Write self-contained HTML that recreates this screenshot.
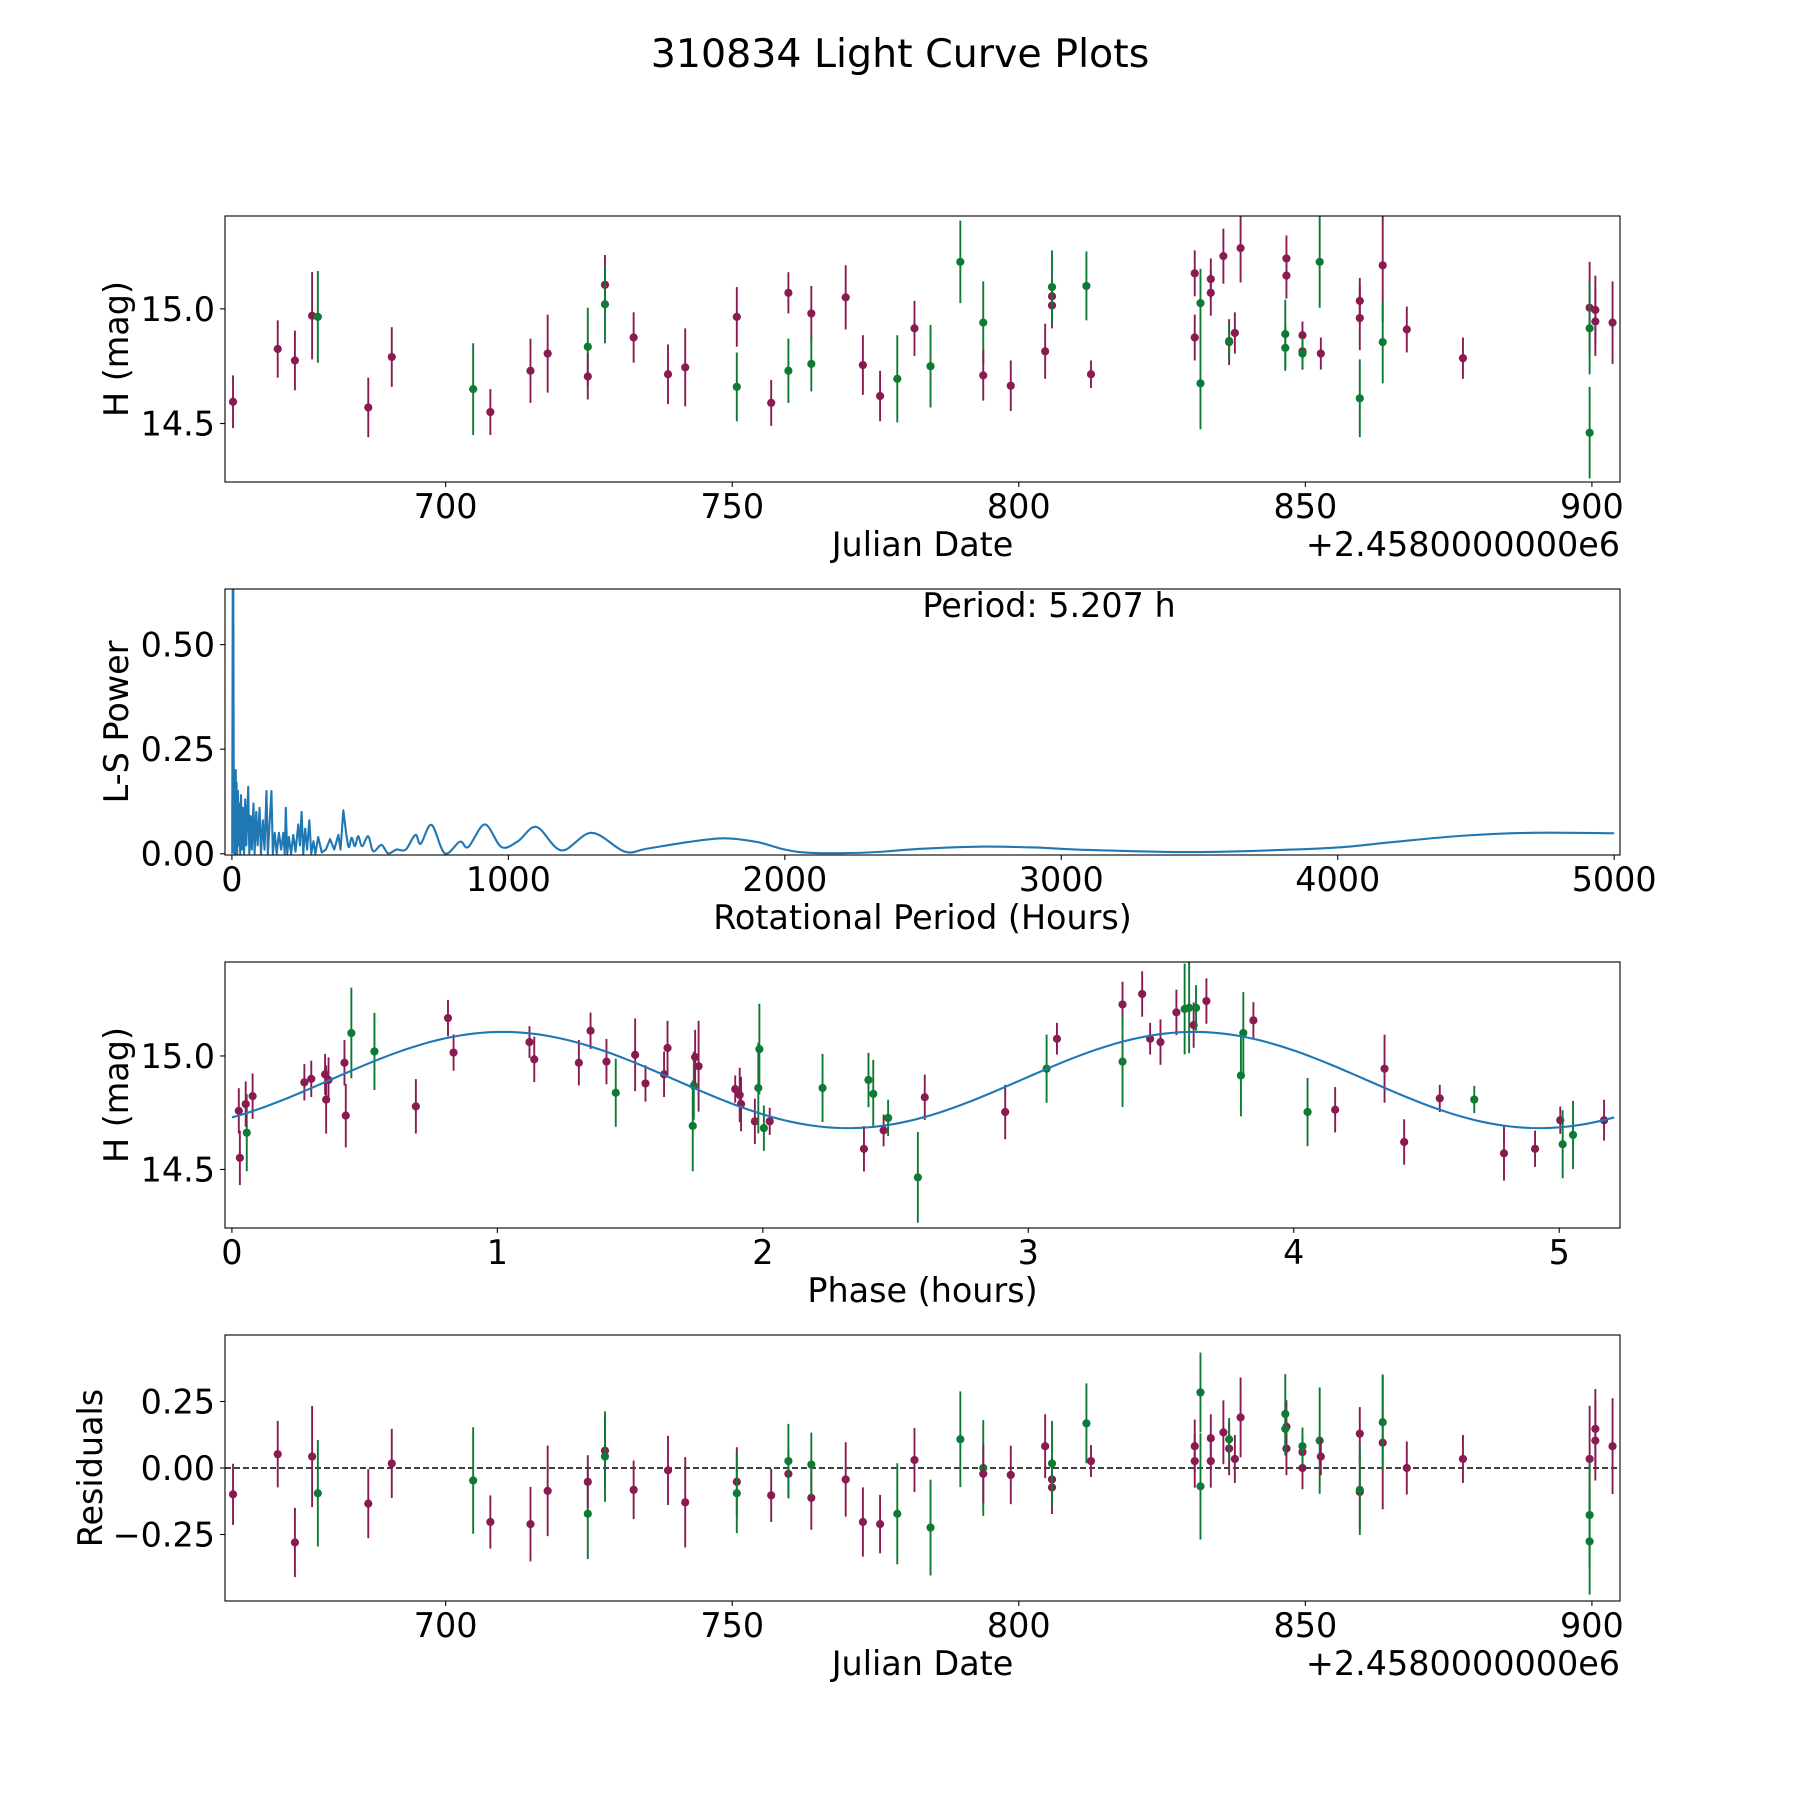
<!DOCTYPE html>
<html><head><meta charset="utf-8">
<style>
html,body{margin:0;padding:0;background:#fff;}
svg{display:block;font-family:"DejaVu Sans","Liberation Sans",sans-serif;}
</style></head>
<body>
<svg id="fig" width="1800" height="1800" viewBox="0 0 1800 1800" xmlns="http://www.w3.org/2000/svg">
<rect width="1800" height="1800" fill="#fff"/>
<text x="900" y="67" font-size="39.5" text-anchor="middle" fill="#000">310834 Light Curve Plots</text>
</svg>
<script>
// ---------- Data: light curve (Julian date offset, H mag, error, filter) ----------
const jdVals = [662.9,670.7,673.7,676.7,677.7,686.5,690.6,704.8,707.8,714.8,717.8,724.8,724.8,727.8,727.8,732.8,738.8,741.8,750.8,750.8,756.8,759.8,759.8,763.8,763.8,769.8,772.8,775.8,778.8,781.8,784.6,789.8,793.8,793.8,798.6,804.6,805.8,805.8,805.8,811.8,812.6,830.7,830.7,831.7,831.7,833.5,833.5,835.7,836.7,836.7,837.7,838.7,846.7,846.7,846.5,846.5,849.5,849.5,849.5,852.5,852.7,859.5,859.5,859.5,863.5,863.5,867.7,877.5,899.6,899.6,899.6,900.6,900.6,903.6];
const magVals = [14.595,14.825,14.775,14.97,14.965,14.57,14.79,14.65,14.55,14.73,14.805,14.835,14.705,15.105,15.02,14.875,14.715,14.745,14.965,14.66,14.59,15.07,14.73,14.98,14.76,15.05,14.755,14.62,14.695,14.915,14.75,15.205,14.94,14.71,14.665,14.815,15.055,15.015,15.095,15.1,14.715,15.155,14.875,15.025,14.675,15.13,15.07,15.23,14.855,14.86,14.895,15.265,15.22,15.145,14.89,14.83,14.885,14.815,14.805,15.205,14.805,15.035,14.96,14.61,15.19,14.855,14.91,14.785,15.005,14.915,14.46,14.995,14.945,14.94];
const errVals = [0.115,0.125,0.13,0.19,0.2,0.13,0.13,0.2,0.1,0.14,0.17,0.17,0.1,0.13,0.17,0.11,0.13,0.17,0.13,0.15,0.1,0.09,0.14,0.12,0.12,0.14,0.13,0.11,0.19,0.12,0.18,0.18,0.18,0.11,0.11,0.12,0.08,0.1,0.16,0.15,0.06,0.1,0.1,0.15,0.2,0.09,0.1,0.12,0.1,0.08,0.09,0.15,0.1,0.1,0.15,0.1,0.06,0.08,0.07,0.2,0.07,0.1,0.14,0.17,0.25,0.18,0.1,0.09,0.2,0.2,0.2,0.15,0.15,0.18];
const filterVals = ['m','m','m','m','g','m','m','g','m','m','m','g','m','m','g','m','m','m','m','g','m','m','g','m','g','m','m','m','g','m','g','g','g','m','m','m','m','m','g','g','m','m','m','g','g','m','m','m','m','g','m','m','m','m','g','g','m','m','g','g','m','m','m','g','m','g','m','m','m','g','g','m','m','m'];
const residVals = [-0.099,0.052,-0.28,0.043,-0.095,-0.134,0.017,-0.047,-0.203,-0.211,-0.086,-0.172,-0.052,0.065,0.043,-0.082,-0.009,-0.129,-0.052,-0.095,-0.103,-0.022,0.026,-0.112,0.013,-0.043,-0.203,-0.211,-0.172,0.03,-0.224,0.108,0,-0.022,-0.026,0.082,-0.043,-0.073,0.017,0.168,0.026,0.082,0.026,0.284,-0.069,0.112,0.026,0.134,0.073,0.108,0.034,0.19,0.155,0.073,0.203,0.147,0.06,0,0.082,0.103,0.043,0.129,-0.09,-0.082,0.095,0.172,0,0.034,0.034,-0.177,-0.276,0.147,0.103,0.082];
// ---------- Data: folded light curve ----------
const phaseVals = [0.026,0.03,0.056,0.052,0.078,0.273,0.299,0.351,0.355,0.364,0.424,0.429,0.45,0.537,0.693,0.814,0.835,1.121,1.139,1.307,1.351,1.411,1.446,1.519,1.558,1.628,1.641,1.736,1.74,1.745,1.758,1.896,1.913,1.918,1.97,1.983,1.987,2.004,2.026,2.225,2.381,2.398,2.416,2.455,2.472,2.584,2.61,2.913,3.069,3.108,3.355,3.355,3.429,3.459,3.498,3.558,3.589,3.606,3.623,3.632,3.671,3.801,3.81,3.848,4.052,4.156,4.342,4.416,4.55,4.68,4.792,4.909,5.004,5.013,5.052,5.169];
const phaseMagVals = [14.758,14.551,14.662,14.788,14.823,14.884,14.899,14.919,14.808,14.894,14.97,14.737,15.101,15.02,14.778,15.167,15.015,15.061,14.985,14.97,15.111,14.975,14.838,15.005,14.879,14.919,15.035,14.692,14.869,14.995,14.955,14.854,14.828,14.788,14.712,14.859,15.03,14.682,14.712,14.859,14.591,14.894,14.833,14.672,14.727,14.465,14.818,14.753,14.944,15.076,15.227,14.975,15.273,15.076,15.061,15.192,15.207,15.212,15.136,15.212,15.242,14.914,15.101,15.157,14.753,14.763,14.944,14.621,14.813,14.808,14.571,14.591,14.717,14.611,14.652,14.717];
const phaseFilterVals = ['m','m','g','m','m','m','m','m','m','m','m','m','g','g','m','m','m','m','m','m','m','m','g','m','m','m','m','g','g','m','m','m','m','m','m','g','g','g','m','g','m','g','g','m','g','g','m','m','g','m','m','g','m','m','m','m','g','g','m','g','m','g','g','m','g','m','m','m','m','g','m','m','m','g','g','m'];
const phaseErrVals = [0.1,0.12,0.17,0.1,0.1,0.08,0.08,0.09,0.15,0.1,0.1,0.14,0.2,0.17,0.12,0.08,0.08,0.07,0.1,0.1,0.08,0.1,0.15,0.16,0.08,0.1,0.12,0.2,0.15,0.12,0.2,0.06,0.12,0.12,0.1,0.2,0.2,0.1,0.06,0.15,0.1,0.12,0.15,0.07,0.08,0.2,0.1,0.12,0.15,0.07,0.1,0.2,0.1,0.07,0.1,0.1,0.2,0.2,0.1,0.1,0.1,0.18,0.18,0.08,0.15,0.1,0.15,0.1,0.06,0.06,0.12,0.08,0.06,0.15,0.15,0.09];
// fitted model: [mean, amplitude, phase of maximum (h), period (h)]
const fitParams = [14.894, 0.212, 1.02, 2.6035];
// ---------- Data: Lomb-Scargle periodogram ----------
const lsPeriods = [1,3,5,7,8,9,11,12,14,15,17,19,22,24,27,30,33,36,40,44,48,52,59,63,68,72,78,82,88,93,100,105,112,118,125,130,136,143,148,155,162,170,178,186,191,195,200,206,214,222,230,240,246,252,258,265,272,280,287,295,302,312,325,340,355,370,385,393,403,421,433,445,457,471,493,511,541,565,595,614,632,664,683,722,770,825,855,915,975,1035,1102,1192,1301,1421,1500,1650,1780,1900,2000,2100,2300,2500,2700,2900,3100,3450,3750,4000,4200,4450,4700,5000];
const lsPower = [0.0,0.63,0.65,0.05,0.2,0.0,0.19,0.02,0.2,0.0,0.17,0.0,0.15,0.02,0.12,0.0,0.14,0.01,0.11,0.0,0.13,0.02,0.16,0.0,0.09,0.01,0.12,0.0,0.1,0.02,0.11,0.0,0.08,0.01,0.15,0.0,0.07,0.15,0.0,0.05,0.0,0.05,0.01,0.05,0.0,0.11,0.0,0.04,0.0,0.045,0.005,0.07,0.02,0.1,0.0,0.06,0.01,0.08,0.0,0.03,0.0,0.04,0.003,0.01,0.035,0.01,0.045,0.01,0.104,0.018,0.038,0.018,0.042,0.018,0.042,0.006,0.021,0.001,0.01,0.008,0.012,0.045,0.024,0.069,0.001,0.029,0.016,0.07,0.016,0.03,0.064,0.008,0.05,0.005,0.012,0.028,0.037,0.028,0.01,0.002,0.003,0.012,0.017,0.015,0.009,0.004,0.008,0.015,0.028,0.043,0.05,0.049];
// ---------- Tick labels ----------
const jdTicks = [700,750,800,850,900];
const magTicks = [14.5,15.0];
const magTickLabels = ['14.5','15.0'];
const lsXTicks = [0,1000,2000,3000,4000,5000];
const lsYTicks = [0,0.25,0.5];
const lsYTickLabels = ['0.00','0.25','0.50'];
const phaseTicks = [0,1,2,3,4,5];
const residTicks = [-0.25,0,0.25];
const residTickLabels = ['\u22120.25','0.00','0.25'];

const NS='http://www.w3.org/2000/svg';
const svg=document.getElementById('fig');
const L=225,R=1620,H=266;
const COL={m:'#8a1b52',g:'#0e7a34'};
const FS=33.4;
function mk(tag,attrs,parent){const e=document.createElementNS(NS,tag);for(const k in attrs)e.setAttribute(k,attrs[k]);(parent||svg).appendChild(e);return e;}
function scale(d0,d1,r0,r1){return v=>r0+(v-d0)/(d1-d0)*(r1-r0);}

function makeAxes(name,top,xd,yd){
  const g=mk('g',{});
  
  
  const clipId='clip-'+name;
  const cp=mk('clipPath',{id:clipId},g);
  mk('rect',{x:L,y:top,width:R-L,height:H},cp);
  const plot=mk('g',{'clip-path':'url(#'+clipId+')'},g);
  
  
  return {g,plot,top,bot:top+H,x:scale(xd[0],xd[1],L,R),y:scale(yd[0],yd[1],top+H,top)};
}
function frame(ax){
  const f=mk('rect',{x:L,y:ax.top,width:R-L,height:H,fill:'none',stroke:'#000','stroke-width':1.1},ax.g);
  
  
}
function xTicks(ax,vals,labels,prefix){
  vals.forEach((v,i)=>{
    const px=ax.x(v);
    const t=mk('line',{x1:px,x2:px,y1:ax.bot,y2:ax.bot+4.9,stroke:'#000','stroke-width':1.1},ax.g);
    
    
    const tx=mk('text',{x:px,y:ax.bot+36,'font-size':FS,'text-anchor':'middle'},ax.g);
    tx.textContent=labels[i];
    
    
  });
}
function yTicks(ax,vals,labels,prefix){
  vals.forEach((v,i)=>{
    const py=ax.y(v);
    const t=mk('line',{x1:L-4.9,x2:L,y1:py,y2:py,stroke:'#000','stroke-width':1.1},ax.g);
    
    
    const tx=mk('text',{x:L-10,y:py+12,'font-size':FS,'text-anchor':'end'},ax.g);
    tx.textContent=labels[i];
    
    
  });
}
function xLabel(ax,txt,name){
  const t=mk('text',{x:(L+R)/2,y:ax.bot+74,'font-size':FS,'text-anchor':'middle'},ax.g);
  t.textContent=txt;
  
  
}
function yLabel(ax,txt,name,xc){
  const cy=ax.top+H/2;
  const t=mk('text',{x:0,y:0,'font-size':FS,'text-anchor':'middle',transform:'translate('+xc+','+cy+') rotate(-90)'},ax.g);
  t.textContent=txt;
  
  
}
function offsetText(ax){
  const t=mk('text',{x:R,y:ax.bot+74,'font-size':FS,'text-anchor':'end'},ax.g);
  t.textContent='+2.4580000000e6';
  
  
}
function errPoints(ax,xs,ys,es,fs,prefix){
  xs.forEach((xv,i)=>{
    const px=ax.x(xv),c=COL[fs[i]];
    const l=mk('line',{x1:px,x2:px,y1:ax.y(ys[i]-es[i]),y2:ax.y(ys[i]+es[i]),stroke:c,'stroke-width':1.9},ax.plot);
    
    
    const p=mk('circle',{cx:px,cy:ax.y(ys[i]),r:4.1,fill:c},ax.plot);
    
    
  });
}
// smooth path through points (monotone-ish Catmull-Rom)
function smoothPath(pts){
  let d='M'+pts[0][0].toFixed(2)+','+pts[0][1].toFixed(2);
  for(let i=0;i<pts.length-1;i++){
    const p0=pts[Math.max(0,i-1)],p1=pts[i],p2=pts[i+1],p3=pts[Math.min(pts.length-1,i+2)];
    const c1=[p1[0]+(p2[0]-p0[0])/6,p1[1]+(p2[1]-p0[1])/6];
    const c2=[p2[0]-(p3[0]-p1[0])/6,p2[1]-(p3[1]-p1[1])/6];
    d+=' C'+c1[0].toFixed(2)+','+c1[1].toFixed(2)+' '+c2[0].toFixed(2)+','+c2[1].toFixed(2)+' '+p2[0].toFixed(2)+','+p2[1].toFixed(2);
  }
  return d;
}

// Panel 1: light curve
const a1=makeAxes('light-curve-panel',216,[661.5,904.9],[14.245,15.405]);
errPoints(a1,jdVals,magVals,errVals,filterVals,'magnitude');
frame(a1);
xTicks(a1,jdTicks,jdTicks.map(String),'light-curve');
yTicks(a1,magTicks,magTickLabels,'light-curve');
xLabel(a1,'Julian Date','light-curve-x-axis-title');
yLabel(a1,'H (mag)','light-curve-y-axis-title',128);
offsetText(a1);

// Panel 2: periodogram
const a2=makeAxes('periodogram-panel',589,[-25,5021],[-0.003,0.633]);
const noisyPts=[],smoothPts=[];
lsPeriods.forEach((p,i)=>{const pt=[a2.x(p),a2.y(lsPower[i])];if(p<=403)noisyPts.push(pt);if(p>=403)smoothPts.push(pt);});
const lsD=noisyPts.map((p,i)=>(i?'L':'M')+p[0].toFixed(2)+','+p[1].toFixed(2)).join(' ')+' '+smoothPath(smoothPts).replace(/^M[^ ]+/,'');
const lsLine=mk('path',{d:lsD,fill:'none',stroke:'#1f77b4','stroke-width':2.1,'stroke-linejoin':'round'},a2.plot);


frame(a2);
xTicks(a2,lsXTicks,lsXTicks.map(String),'periodogram');
yTicks(a2,lsYTicks,lsYTickLabels,'periodogram');
xLabel(a2,'Rotational Period (Hours)','periodogram-x-axis-title');
yLabel(a2,'L-S Power','periodogram-y-axis-title',128);
const per=mk('text',{x:1049,y:617,'font-size':FS,'text-anchor':'middle'},a2.g);
per.textContent='Period: 5.207 h';



// Panel 3: phase-folded
const a3=makeAxes('phase-panel',962,[-0.026,5.229],[14.242,15.414]);
errPoints(a3,phaseVals,phaseMagVals,phaseErrVals,phaseFilterVals,'phased');
const fitPts=[];
for(let i=0;i<=200;i++){const p=5.207*i/200;fitPts.push((i?'L':'M')+a3.x(p).toFixed(2)+','+a3.y(fitParams[0]+fitParams[1]*Math.cos(2*Math.PI*(p-fitParams[2])/fitParams[3])).toFixed(2));}
const fit=mk('path',{d:fitPts.join(' '),fill:'none',stroke:'#1f77b4','stroke-width':2.1},a3.plot);


frame(a3);
xTicks(a3,phaseTicks,phaseTicks.map(String),'phase');
yTicks(a3,magTicks,magTickLabels,'phase');
xLabel(a3,'Phase (hours)','phase-x-axis-title');
yLabel(a3,'H (mag)','phase-y-axis-title',128);

// Panel 4: residuals
const a4=makeAxes('residuals-panel',1335,[661.5,904.9],[-0.5,0.5]);
const zl=mk('line',{x1:L,x2:R,y1:a4.y(0),y2:a4.y(0),stroke:'#000','stroke-width':1.6,'stroke-dasharray':'6,3'},a4.plot);


errPoints(a4,jdVals,residVals,errVals,filterVals,'residual');
frame(a4);
xTicks(a4,jdTicks,jdTicks.map(String),'residuals');
yTicks(a4,residTicks,residTickLabels,'residuals');
xLabel(a4,'Julian Date','residuals-x-axis-title');
yLabel(a4,'Residuals','residuals-y-axis-title',102);
offsetText(a4);
</script>
</body></html>
